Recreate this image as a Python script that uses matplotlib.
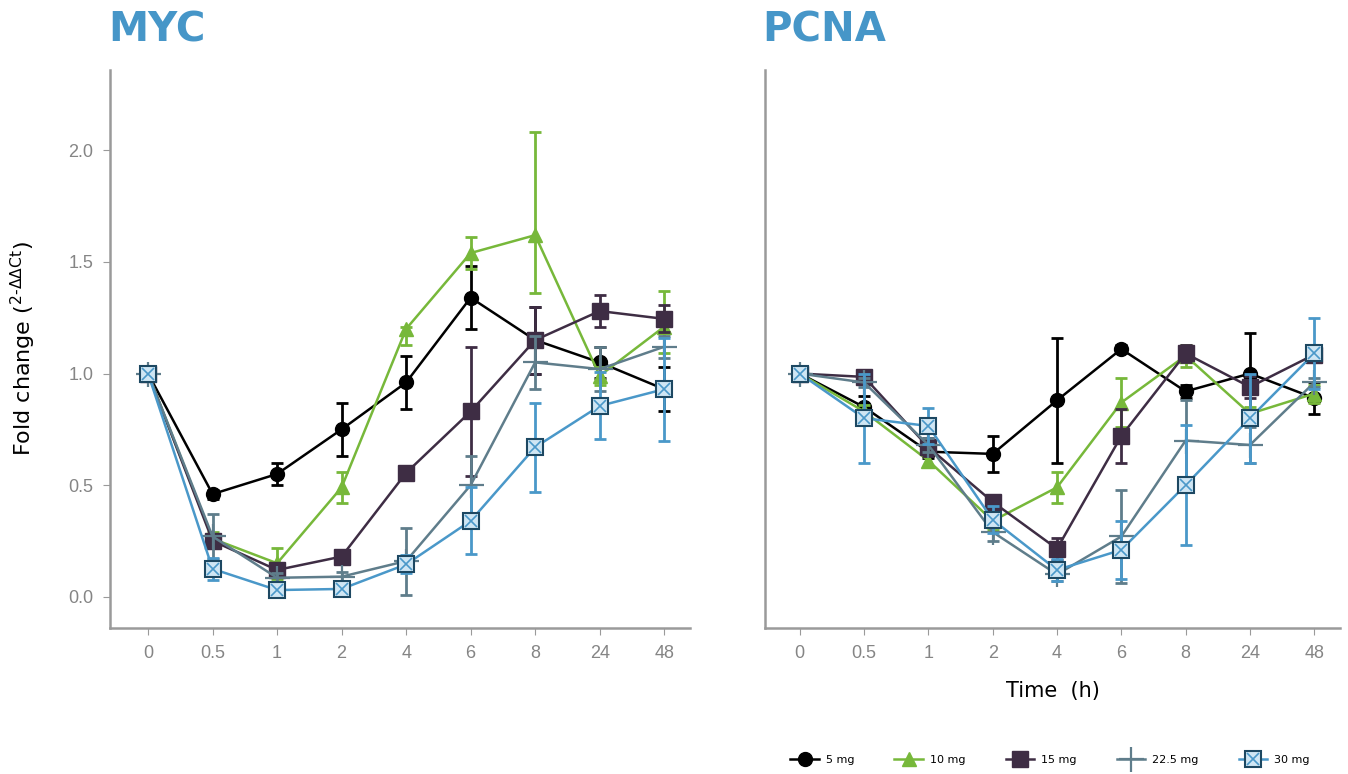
import matplotlib.pyplot as plt
from matplotlib.legend_handler import HandlerTuple
import numpy as np

times = ["0", "0.5", "1", "2", "4", "6", "8", "24", "48"]
doses = ["5 mg", "10 mg", "15 mg", "22.5 mg", "30 mg"]

# MYC
myc_5 = [1.0, 0.46, 0.55, 0.75, 0.96, 1.34, 1.15, 1.05, 0.93]
myc_5_err = [0.0, 0.02, 0.05, 0.12, 0.12, 0.14, 0.15, 0.07, 0.10]
myc_10 = [1.0, 0.26, 0.15, 0.49, 1.20, 1.54, 1.62, 0.99, 1.21]
myc_10_lo = [0.0, 0.03, 0.07, 0.07, 0.07, 0.07, 0.26, 0.04, 0.12]
myc_10_hi = [0.0, 0.03, 0.07, 0.07, 0.01, 0.07, 0.46, 0.04, 0.16]
myc_15 = [1.0, 0.25, 0.12, 0.18, 0.555, 0.83, 1.15, 1.28, 1.245]
myc_15_err = [0.0, 0.02, 0.02, 0.02, 0.03, 0.29, 0.15, 0.07, 0.06]
myc_225 = [1.0, 0.27, 0.085, 0.09, 0.16, 0.50, 1.05, 1.02, 1.12]
myc_225_err = [0.0, 0.10, 0.02, 0.02, 0.15, 0.13, 0.12, 0.10, 0.05]
myc_30 = [1.0, 0.125, 0.03, 0.035, 0.145, 0.34, 0.67, 0.855, 0.93]
myc_30_err = [0.0, 0.05, 0.01, 0.01, 0.04, 0.15, 0.20, 0.15, 0.23]

# PCNA
pcna_5 = [1.0, 0.85, 0.65, 0.64, 0.88, 1.11, 0.92, 1.0, 0.89]
pcna_5_err = [0.0, 0.05, 0.03, 0.08, 0.28, 0.02, 0.03, 0.18, 0.07]
pcna_10 = [1.0, 0.83, 0.61, 0.34, 0.49, 0.87, 1.08, 0.82, 0.91]
pcna_10_err = [0.0, 0.03, 0.03, 0.04, 0.07, 0.11, 0.05, 0.03, 0.04]
pcna_15 = [1.0, 0.985, 0.67, 0.425, 0.215, 0.72, 1.09, 0.94, 1.085]
pcna_15_err = [0.0, 0.02, 0.04, 0.03, 0.05, 0.12, 0.04, 0.05, 0.03]
pcna_225 = [1.0, 0.96, 0.68, 0.29, 0.10, 0.27, 0.70, 0.68, 0.96]
pcna_225_err = [0.0, 0.02, 0.03, 0.04, 0.03, 0.21, 0.18, 0.08, 0.02]
pcna_30 = [1.0, 0.80, 0.765, 0.345, 0.12, 0.21, 0.50, 0.80, 1.09]
pcna_30_err = [0.0, 0.20, 0.08, 0.06, 0.05, 0.13, 0.27, 0.20, 0.16]

colors = ["#000000", "#77b83a", "#3e2d44", "#5f7d8b", "#4a98c9"]
blue_dark = "#1d4862"
blue_light = "#cfe6f4"

x = np.arange(len(times))

fig = plt.figure(figsize=(13.48, 7.74), dpi=100)
ax1 = fig.add_axes([110 / 1348, 146 / 774, 580 / 1348, 558 / 774])
ax2 = fig.add_axes([765 / 1348, 146 / 774, 575 / 1348, 558 / 774])


def draw(ax, data):
    handles = []
    for i, (y, err) in enumerate(data):
        c = colors[i]
        ax.errorbar(x, y, yerr=err, fmt="none", ecolor=c, elinewidth=2,
                    capsize=4.5, capthick=2, zorder=2 + i)
        if i == 0:
            h = ax.plot(x, y, color=c, lw=1.8, marker="o", ms=10, zorder=3 + i)[0]
        elif i == 1:
            h = ax.plot(x, y, color=c, lw=1.8, marker="^", ms=10, zorder=3 + i)[0]
        elif i == 2:
            h = ax.plot(x, y, color=c, lw=1.8, marker="s", ms=11, zorder=3 + i)[0]
        elif i == 3:
            h = ax.plot(x, y, color=c, lw=1.8, marker="+", ms=18, mew=1.6, zorder=3 + i)[0]
        else:
            h1 = ax.plot(x, y, color=c, lw=1.8, marker="s", ms=11, mfc=blue_light,
                         mec=blue_dark, mew=1.5, zorder=3 + i)[0]
            h2 = ax.plot(x, y, ls="none", marker="x", ms=8, mec=c, mew=1.2,
                         zorder=4 + i)[0]
            h = (h1, h2)
        handles.append(h)
    return handles


draw(ax1, [(myc_5, myc_5_err), (myc_10, [myc_10_lo, myc_10_hi]),
           (myc_15, myc_15_err), (myc_225, myc_225_err), (myc_30, myc_30_err)])
handles = draw(ax2, [(pcna_5, pcna_5_err), (pcna_10, pcna_10_err),
                     (pcna_15, pcna_15_err), (pcna_225, pcna_225_err),
                     (pcna_30, pcna_30_err)])

for ax in (ax1, ax2):
    ax.set_ylim(-0.14, 2.36)
    ax.set_xticks(x)
    ax.set_xticklabels(times, family="Liberation Sans")
    for s in ("top", "right"):
        ax.spines[s].set_visible(False)
    for s in ("left", "bottom"):
        ax.spines[s].set_color("#9a9a9a")
        ax.spines[s].set_linewidth(1.8)
    ax.tick_params(colors="#9a9a9a", labelcolor="#858585", labelsize=13, length=5, pad=7)

ax1.set_xlim(-0.59, 8.4)
ax2.set_xlim(-0.54, 8.4)
ax1.set_yticks([0.0, 0.5, 1.0, 1.5, 2.0])
ax1.set_yticklabels(["0.0", "0.5", "1.0", "1.5", "2.0"], family="Liberation Sans")
ax2.set_yticks([])

ax1.set_ylabel(r"Fold change ($^{\mathregular{2\text{-}\Delta\Delta Ct}}$)", fontsize=16, labelpad=22)
ax2.set_xlabel("Time  (h)", fontsize=15, labelpad=14)

fig.text(108 / 1348, 1 - 42 / 774, "MYC", fontsize=29, fontweight="bold",
         color="#4696c8", va="baseline")
fig.text(762 / 1348, 1 - 42 / 774, "PCNA", fontsize=29, fontweight="bold",
         color="#4696c8", va="baseline")

fig.legend(handles, doses, loc="center", bbox_to_anchor=(1050 / 1348, 1 - 760 / 774),
           ncol=5, frameon=False, fontsize=8, handlelength=2.6, columnspacing=3.6,
           handletextpad=0.6,
           handler_map={tuple: HandlerTuple(ndivide=1, pad=0)})

fig.savefig("out.png", dpi=100)
